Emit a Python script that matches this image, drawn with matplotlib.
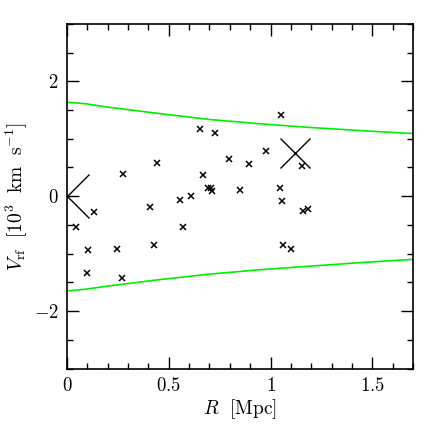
import numpy as np
import matplotlib
matplotlib.use('Agg')
import matplotlib.pyplot as plt

plt.rcParams['mathtext.fontset'] = 'cm'
plt.rcParams['font.family'] = 'serif'
plt.rcParams['font.serif'] = ['DejaVu Serif']

# galaxies: projected radius [Mpc] and radial velocity [10^3 km/s]
r_gal = [1.053, 0.655, 0.727, 0.979, 0.795, 0.895, 0.443, 1.153, 0.274, 0.666,
         0.691, 0.708, 0.714, 0.852, 1.049, 0.611, 0.557, 1.057, 1.185, 1.158,
         0.133, 0.407, 0.044, 0.570, 0.429, 0.248, 0.102, 1.062, 1.103, 0.099,
         0.269]
v_gal = [1.414, 1.162, 1.103, 0.783, 0.643, 0.562, 0.569, 0.527, 0.383, 0.377,
         0.151, 0.134, 0.087, 0.116, 0.144, 0.000, -0.075, -0.082, -0.221, -0.266,
         -0.273, -0.186, -0.544, -0.544, -0.852, -0.922, -0.939, -0.851, -0.920, -1.334,
         -1.426]

# big crosses (central object and offset group)
r_big = [0.0, 1.122]
v_big = [0.0, 0.753]
size_big = [32, 21]

# escape velocity envelope
r_env = [0.0, 0.09, 0.2, 0.45, 0.7, 0.95, 1.2, 1.45, 1.7]
v_up = [1.635, 1.61, 1.55, 1.44, 1.335, 1.26, 1.195, 1.14, 1.09]
v_lo = [-1.65, -1.62, -1.565, -1.455, -1.357, -1.28, -1.217, -1.155, -1.10]

fig = plt.figure(figsize=(4.36, 4.36), dpi=100)
ax = fig.add_axes([0.1537, 0.1548, 0.7935, 0.7905])

ax.plot(r_env, v_up, color='#00ee00', lw=1.2)
ax.plot(r_env, v_lo, color='#00ee00', lw=1.2)

ax.plot(r_gal, v_gal, 'x', color='black', ms=4.5, mew=1.1)
for r, v, s in zip(r_big, v_big, size_big):
    ax.plot(r, v, 'x', color='black', ms=s, mew=1.0)

ax.set_xlim(0, 1.7)
ax.set_ylim(-3, 3)
ax.set_xticks([0, 0.5, 1, 1.5])
ax.set_xticklabels(['$0$', '$0.5$', '$1$', '$1.5$'])
ax.set_xticks(np.arange(0, 1.71, 0.1), minor=True)
ax.set_yticks([-2, 0, 2])
ax.set_yticklabels(['$-2$', '$0$', '$2$'])
ax.set_yticks(np.arange(-3, 3.01, 0.5), minor=True)
ax.tick_params(which='both', direction='in', top=True, right=True, labelsize=13.5, width=1)
ax.tick_params(which='major', length=8.5, pad=6)
ax.tick_params(which='minor', length=4.3)
for sp in ax.spines.values():
    sp.set_linewidth(1.2)

ax.set_xlabel(r'$R\ \ [\mathrm{Mpc}]$', fontsize=14, labelpad=2)
ax.set_ylabel(r'$V_{\rm rf}\ \ [10^3\ \ \mathrm{km}\ \ \mathrm{s^{-1}}]$', fontsize=14, labelpad=3)

fig.savefig('out.png', dpi=100)
